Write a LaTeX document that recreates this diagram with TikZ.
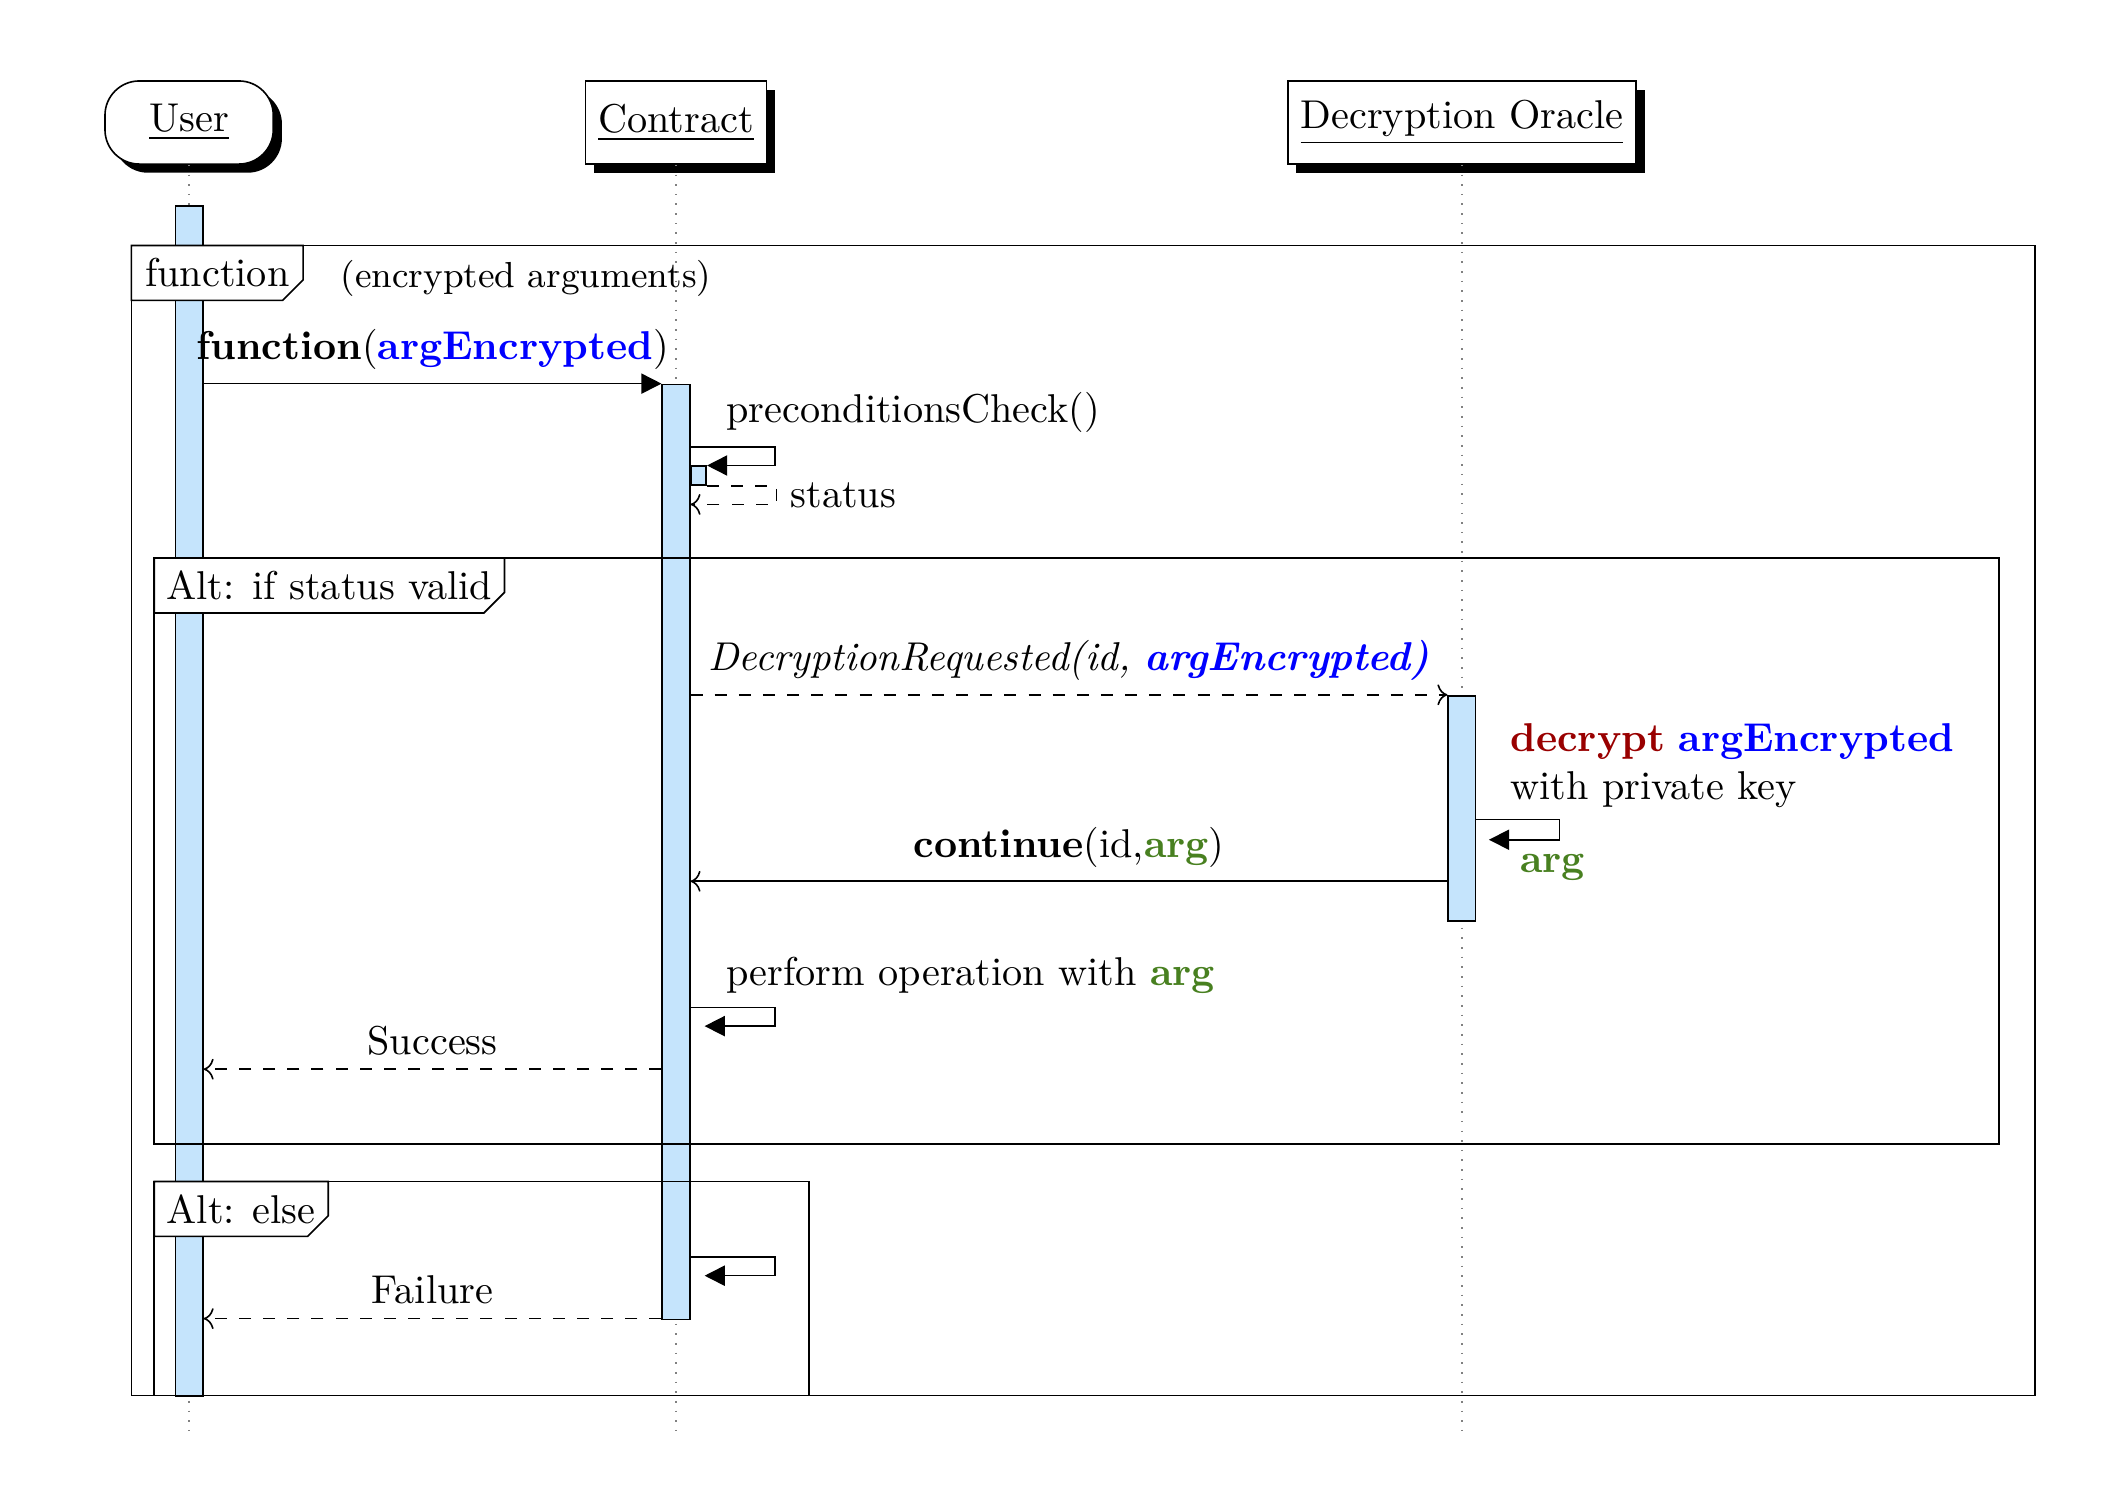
\documentclass[tikz,border=0pt]{standalone}
\usetikzlibrary{arrows.meta,shadows,calc,positioning}
\definecolor{actblue}{RGB}{197,228,252}
\definecolor{decred}{RGB}{153,0,0}
\definecolor{arggreen}{RGB}{72,128,32}
\tikzset{
  inst/.style={draw, fill=white, minimum height=0.726cm, inner xsep=3.2pt,
    drop shadow={fill=black, opacity=1}},
  thread/.style={draw, fill=actblue, minimum width=0.24cm, inner sep=0pt, anchor=north},
  lifeline/.style={dotted, gray},
  callmsg/.style={-{Triangle[length=5pt,width=5pt]}},
  retmsg/.style={dashed, ->},
  asyncmsg/.style={->}
}
% frame label with cut corner: name, top left corner, width, text
\newcommand{\flabel}[4]{%
  \draw[fill=white] (#2) -- ++(#3,0) -- ++(0,-0.30) -- ++(-0.18,-0.18)
    -- ++(-#3+0.18,0) -- cycle;
  \node (#1) at ($(#2)+(#3/2,-0.24)$) {#4};
}
\begin{document}
\begin{tikzpicture}
  % lifeline positions
  \def\xU{1.652}
  \def\xC{5.905}
  \def\xO{12.77}
  \useasboundingbox (0,0) rectangle (18.37,-13.04);
  % instances
  \node[inst, rounded corners=0.3cm, minimum width=1.47cm] (user) at (\xU,-1.07) {\underline{User}};
  \node[inst] (contract) at (\xC,-1.07) {\underline{Contract}};
  \node[inst] (oracle) at (\xO,-1.07) {\underline{Decryption Oracle}};
  % lifelines
  \coordinate (endU) at (\xU,-12.56);
  \coordinate (endC) at (\xC,-12.56);
  \coordinate (endO) at (\xO,-12.56);
  \draw[lifeline] (user.south) -- (endU);
  \draw[lifeline] (contract.south) -- (endC);
  \draw[lifeline] (oracle.south) -- (endO);
  % activations
  \node[thread, minimum height=10.40cm] (uAct) at (\xU,-1.79) {};
  \node[thread, minimum height=8.17cm] (cAct) at (\xC,-3.35) {};
  \node[thread, minimum width=0.13cm, minimum height=0.164cm, anchor=north west] (cNest) at (cAct.east |- 0,-4.066) {};
  \node[thread, minimum height=1.97cm] (oAct) at (\xO,-6.07) {};
  % frames
  \coordinate (fFun) at (1.148,-2.144);
  \coordinate (fAlt) at (1.347,-4.874);
  \coordinate (fElse) at (1.347,-10.32);
  \draw (fFun) rectangle (17.775,-12.19);
  \draw (fAlt) rectangle (17.46,-9.994);
  \draw (fElse) rectangle (7.065,-12.19);
  \flabel{labFun}{fFun}{1.50}{function}
  \node[right=0.2cm of labFun, yshift=-0.05cm, font=\small] (fArgs) {(encrypted arguments)};
  \flabel{labAlt}{fAlt}{3.06}{Alt: if status valid}
  \flabel{labElse}{fElse}{1.52}{Alt: else}
  % function call
  \coordinate (yCall) at (0,-3.351);
  \draw[callmsg] (uAct.east |- yCall) -- node[above] (lCall) {\textbf{function}(\textcolor{blue}{\textbf{argEncrypted}})} (cAct.west |- yCall);
  % preconditions
  \coordinate (yChk) at (0,-3.902);
  \coordinate (yStat) at (0,-4.406);
  \draw[callmsg] (cAct.east |- yChk) -- ++(0.736,0) |- (cNest.north east);
  \node[anchor=west] (lChk) at (6.22,-3.60) {preconditionsCheck()};
  \draw[retmsg] (cNest.south east) -- ++(0.606,0) |- node[pos=0.25, right] (lStat) {status} (cAct.east |- yStat);
  % decryption request
  \coordinate (yReq) at (0,-6.069);
  \draw[retmsg] (cAct.east |- yReq) -- node[above] (lReq) {\textit{DecryptionRequested(id, \textcolor{blue}{\textbf{argEncrypted)}}}} (oAct.west |- yReq);
  \node[anchor=west, align=left] (lDec) at (13.07,-6.69) {\textcolor{decred}{\textbf{decrypt}} \textcolor{blue}{\textbf{argEncrypted}}\\with private key};
  \coordinate (yDec) at (0,-7.159);
  \coordinate (oDecEnd) at (13.006,-7.335);
  \draw[callmsg] (oAct.east |- yDec) -- ++(0.725,0) |- (oDecEnd);
  \node (lArg) at (13.56,-7.58) {\textcolor{arggreen}{\textbf{arg}}};
  % continue
  \coordinate (yCont) at (0,-7.698);
  \draw[asyncmsg] (oAct.west |- yCont) -- node[above] (lCont) {\textbf{continue}(id,\textcolor{arggreen}{\textbf{arg}})} (cAct.east |- yCont);
  % operation
  \coordinate (yOp) at (0,-8.80);
  \coordinate (cOpEnd) at (6.155,-8.963);
  \draw[callmsg] (cAct.east |- yOp) -- ++(0.736,0) |- (cOpEnd);
  \node[anchor=west] (lOp) at (6.22,-8.52) {perform operation with \textcolor{arggreen}{\textbf{arg}}};
  \coordinate (ySucc) at (0,-9.339);
  \draw[retmsg] (cAct.west |- ySucc) -- node[above] (lSucc) {Success} (uAct.east |- ySucc);
  % else branch
  \coordinate (yElse) at (0,-10.979);
  \coordinate (cElseEnd) at (6.155,-11.143);
  \draw[callmsg] (cAct.east |- yElse) -- ++(0.736,0) |- (cElseEnd);
  \coordinate (yFail) at (0,-11.518);
  \draw[retmsg] (cAct.west |- yFail) -- node[above] (lFail) {Failure} (uAct.east |- yFail);
\end{tikzpicture}
\end{document}
